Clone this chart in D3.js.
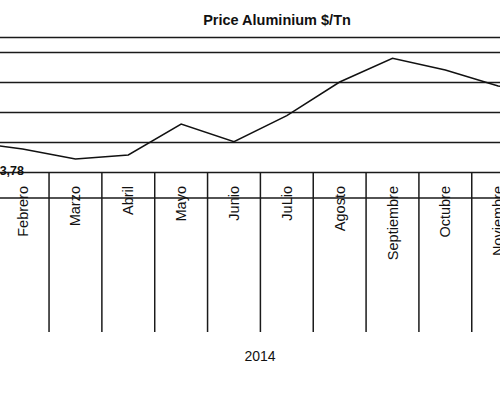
<!DOCTYPE html>
<html><head><meta charset="utf-8">
<script src="https://cdn.jsdelivr.net/npm/d3@7"></script>
<style>
html,body{margin:0;padding:0;background:#fff;}
svg{display:block;font-family:"Liberation Sans",Arial,sans-serif;}
</style></head>
<body><svg id="chart" width="500" height="394"></svg>
<script>
const months = ["Enero","Febrero","Marzo","Abril","Mayo","Junio","JuLio","Agosto","Septiembre","Octubre","Noviembre","Diciembre"];
const prices = [1700, 1677, 1643, 1657, 1760, 1701, 1788, 1900, 1979, 1940, 1887, 1857];
const gridTicks = [1600, 1700, 1800, 1900, 2000, 2050];
const yearLabel = "2014";
const title = "Price Aluminium $/Tn";
const minLabel = "1.643,78";

const svg = d3.select("#chart");
const W = 500, H = 394;
const step = 52.84;
const x = d3.scaleBand().domain(months).range([-56.64, -56.64 + step*12]).paddingInner(0).paddingOuter(0);
const y = d3.scaleLinear().domain([1600, 2050]).range([172, 37]);

const stroke = "#1a1a1a";

// gridlines
svg.append("g").selectAll("line").data(gridTicks).join("line")
  .attr("x1", 0).attr("x2", W)
  .attr("y1", d => Math.round(y(d)) + 0.5).attr("y2", d => Math.round(y(d)) + 0.5)
  .attr("stroke", stroke).attr("stroke-width", 1.5);

// category table separator line
const tableY = 198;
const tableBottom = 332;
svg.append("line").attr("x1", 0).attr("x2", W).attr("y1", tableY).attr("y2", tableY)
  .attr("stroke", stroke).attr("stroke-width", 1.5);

// vertical separators between months
const bounds = months.slice(1).map(m => x(m));
svg.append("g").selectAll("line").data(bounds).join("line")
  .attr("x1", d => d).attr("x2", d => d)
  .attr("y1", y(1600)).attr("y2", tableBottom)
  .attr("stroke", stroke).attr("stroke-width", 1.5);

// month labels (rotated)
svg.append("g").selectAll("text").data(months).join("text")
  .attr("transform", d => `translate(${x(d) + x.bandwidth()/2 + 5},186) rotate(-90)`)
  .attr("text-anchor", "end")
  .attr("font-size", 14.5)
  .attr("fill", "#111")
  .text(d => d);

// line
const line = d3.line().x((d,i) => x(months[i]) + x.bandwidth()/2).y(d => y(d));
svg.append("path").datum(prices).attr("d", line)
  .attr("fill", "none").attr("stroke", "#111").attr("stroke-width", 1.5).attr("stroke-linejoin", "miter");

// data label (cut off at the left)
svg.append("text").attr("x", 24).attr("y", 175).attr("text-anchor", "end")
  .attr("font-size", 12.5).attr("font-weight", "bold").attr("fill", "#111").text(minLabel);

// title
svg.append("text").attr("x", 277).attr("y", 25).attr("text-anchor", "middle")
  .attr("font-size", 14.5).attr("font-weight", "bold").attr("fill", "#111").text(title);

// year label
svg.append("text").attr("x", 260).attr("y", 361).attr("text-anchor", "middle")
  .attr("font-size", 14).attr("fill", "#111").text(yearLabel);
</script></body></html>
